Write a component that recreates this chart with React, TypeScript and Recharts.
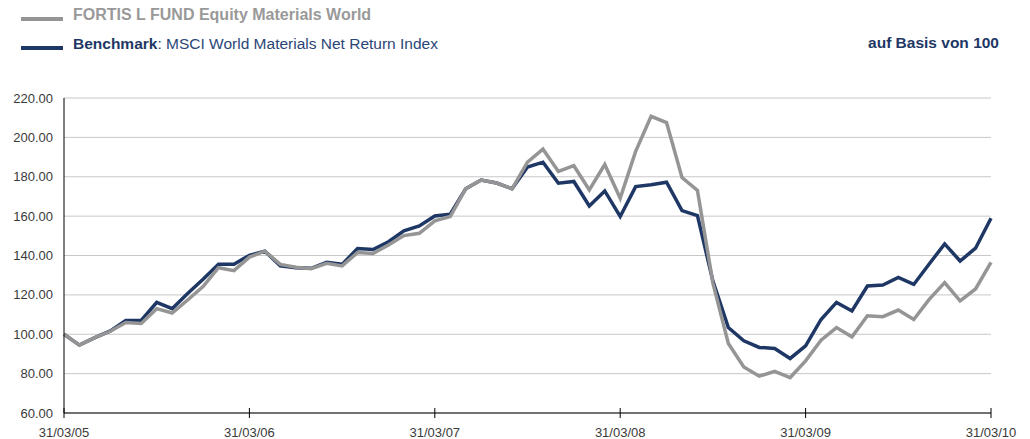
import { LineChart, Line, XAxis, YAxis, CartesianGrid } from 'recharts';

// monthly index, 31/03/05 .. 31/03/10 (61 points)
const fundValues = [
  100, 94.5, 98.3, 101.5, 106, 105.5, 113, 110.8, 117.4, 124.2,
  133.8, 132.3, 139.2, 142.2, 135.5, 134, 133.3, 136, 134.7, 141.5,
  141, 145.3, 150.1, 151.3, 157.6, 159.8, 173.9, 178.3, 176.8, 173.9,
  187.4, 194, 182.7, 185.6, 173.3, 186.2, 169.1, 192.9, 210.7, 207.5,
  179.6, 173, 126, 95.3, 83.4, 78.7, 81.2, 78, 86.5, 97,
  103.4, 98.7, 109.4, 108.9, 112.3, 107.5, 117.7, 126.2, 117, 123,
  136.5,
];
const benchmarkValues = [
  100, 94.5, 98.3, 101.7, 107, 107, 116.2, 113, 120.7, 127.9,
  135.5, 135.5, 140.1, 142.2, 134.8, 133.8, 133.5, 136.5, 135.5, 143.5,
  143, 147, 152.5, 155, 160.1, 161, 173.9, 178.3, 176.8, 173.9,
  184.9, 187.4, 176.7, 177.6, 165.2, 172.8, 159.8, 175, 175.9, 177.2,
  162.8, 160.3, 127, 103.4, 96.7, 93.3, 92.8, 87.7, 94.1, 107.5,
  116.2, 111.8, 124.5, 125, 128.9, 125.3, 135.7, 145.9, 137.2, 143.7,
  158.9,
];
const xTickPositions = [0, 12, 24, 36, 48, 60];
const xTickLabels = ['31/03/05', '31/03/06', '31/03/07', '31/03/08', '31/03/09', '31/03/10'];
const yTicks = [60, 80, 100, 120, 140, 160, 180, 200, 220];

const GRAY = '#959595';
const NAVY = '#1e3765';
const FONT = '"Liberation Sans", Arial, Helvetica, sans-serif';

const data = fundValues.map((v, i) => ({ i, fund: v, benchmark: benchmarkValues[i] }));

const XTick = (props: any) => {
  const { x, y, payload } = props;
  const idx = xTickPositions.indexOf(payload.value);
  return (
    <g>
      <line x1={x} x2={x} y1={y - 5} y2={y + 5} stroke="#000" strokeWidth={1} />
      <text x={x} y={y + 24} textAnchor="middle" fill="#3a3a3a" fontSize={13} fontFamily={FONT}>
        {xTickLabels[idx]}
      </text>
    </g>
  );
};

export default function App(): JSX.Element {
  return (
    <div style={{ position: 'absolute', left: 0, top: 0, width: 1030, height: 439, background: '#fff', fontFamily: FONT }}>
      <div style={{ position: 'absolute', left: 21, top: 17, width: 42, height: 4, background: GRAY }} />
      <div style={{ position: 'absolute', left: 73, top: 6, fontSize: 16, fontWeight: 'bold', color: '#999999', whiteSpace: 'nowrap' }}>
        FORTIS L FUND Equity Materials World
      </div>
      <div style={{ position: 'absolute', left: 21, top: 46, width: 42, height: 4, background: NAVY }} />
      <div style={{ position: 'absolute', left: 73, top: 35, fontSize: 15.5, color: '#2a4677', whiteSpace: 'nowrap' }}>
        <span style={{ fontWeight: 'bold', color: NAVY }}>Benchmark</span>: MSCI World Materials Net Return Index
      </div>
      <div style={{ position: 'absolute', right: 31, top: 34, fontSize: 15.5, fontWeight: 'bold', color: NAVY, whiteSpace: 'nowrap' }}>
        auf Basis von 100
      </div>
      <div style={{ position: 'absolute', left: 0, top: 0 }}>
        <LineChart width={1030} height={439} data={data} margin={{ top: 98, right: 39, left: 8, bottom: 0 }}>
          <CartesianGrid vertical={false} stroke="#c8c8c8" strokeWidth={1} />
          <XAxis
            dataKey="i"
            type="number"
            domain={[0, 60]}
            ticks={xTickPositions}
            tick={<XTick />}
            tickLine={false}
            tickSize={0}
            tickMargin={0}
            height={26}
            axisLine={{ stroke: '#000', strokeWidth: 1 }}
            interval={0}
          />
          <YAxis
            type="number"
            domain={[60, 220]}
            ticks={yTicks}
            width={56}
            tickFormatter={(v: number) => v.toFixed(2)}
            tick={{ fill: '#3a3a3a', fontSize: 13, fontFamily: FONT }}
            tickLine={false}
            tickSize={6}
            tickMargin={5}
            axisLine={{ stroke: '#000', strokeWidth: 1 }}
            interval={0}
          />
          <Line type="linear" dataKey="benchmark" stroke={NAVY} strokeWidth={3.5} dot={false} isAnimationActive={false} />
          <Line type="linear" dataKey="fund" stroke={GRAY} strokeWidth={3.5} dot={false} isAnimationActive={false} />
        </LineChart>
      </div>
    </div>
  );
}
